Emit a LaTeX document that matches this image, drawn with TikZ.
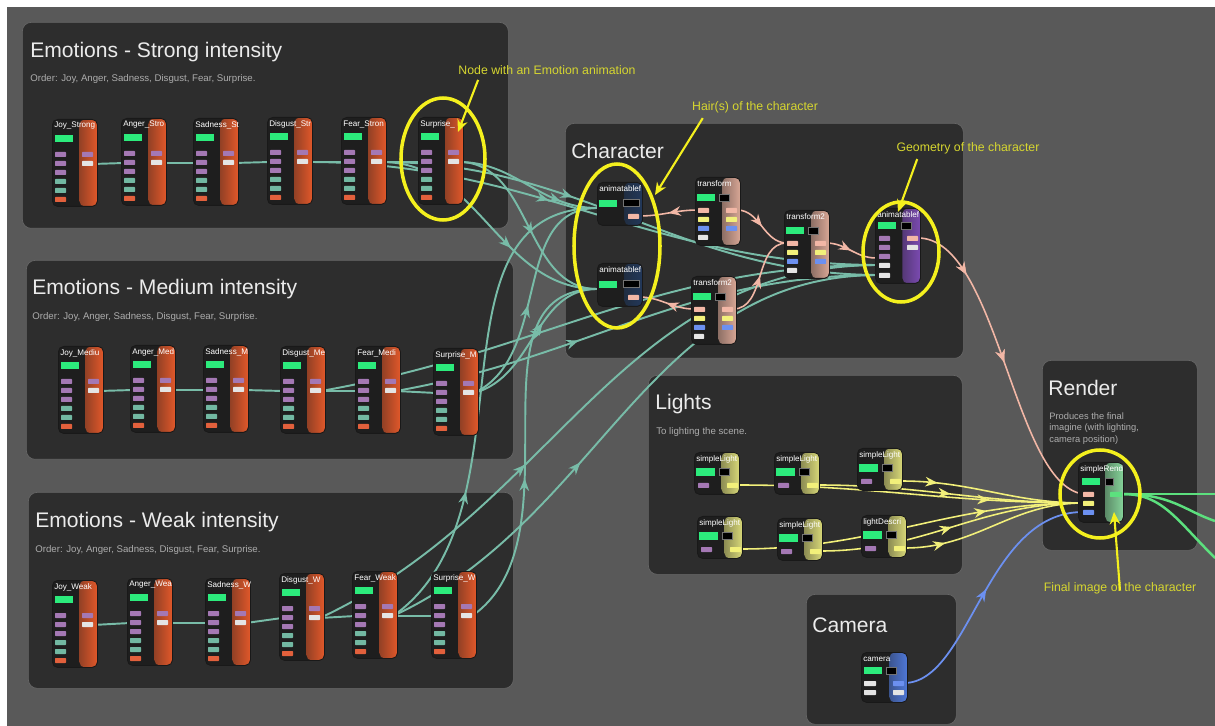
\documentclass[tikz,border=0pt]{standalone}
\usepackage{fontspec}
\setmainfont{Liberation Sans}
\usetikzlibrary{arrows.meta,decorations.markings,shapes.geometric}
\definecolor{pagebg}{HTML}{595959}
\definecolor{panelbg}{HTML}{2D2D2D}
\definecolor{nodebg}{HTML}{1E1E1E}
\definecolor{emorange}{HTML}{E2582A}
\definecolor{animblue}{HTML}{22385A}
\definecolor{geopurple}{HTML}{7B4AB2}
\definecolor{xfpink}{HTML}{D9A796}
\definecolor{lightyel}{HTML}{D8D878}
\definecolor{rndgreen}{HTML}{86D49A}
\definecolor{camblue}{HTML}{4F78D8}
\definecolor{pgreen}{HTML}{2CEB7C}
\definecolor{ppurple}{HTML}{A478B4}
\definecolor{pteal}{HTML}{72B8A2}
\definecolor{pred}{HTML}{E2603C}
\definecolor{pwhite}{HTML}{E4E4E4}
\definecolor{ppink}{HTML}{F2B7A6}
\definecolor{pyellow}{HTML}{F2F07A}
\definecolor{pblue}{HTML}{6C90F0}
\definecolor{wteal}{HTML}{78BCA8}
\definecolor{annoyel}{HTML}{D6D630}
\definecolor{hiyel}{HTML}{F4F01E}
\definecolor{outgreen}{HTML}{5CE07E}
\pgfdeclarelayer{bg}
\pgfdeclarelayer{wires}
\pgfsetlayers{bg,wires,main}

\tikzset{
  panel/.style={anchor=north west, fill=panelbg, draw=black!60, line width=0.4pt,
    rounded corners=5pt, inner sep=0pt},
  ptitle/.style={anchor=base west, inner sep=0pt, text=black!8,
    font=\fontsize{12}{14}\selectfont},
  psub/.style={anchor=base west, inner sep=0pt, text=black!32,
    font=\fontsize{5.5}{6.6}\selectfont},
  gbox/.style={anchor=north west, rounded corners=3pt, draw=black!90, line width=0.5pt,
    fill=nodebg, inner sep=0pt,
    path picture={\shade[left color=nodebg, right color=#1]
      ([xshift=-0.36cm]path picture bounding box.north east)
      rectangle (path picture bounding box.south east);}},
  nodelabel/.style={anchor=west, inner sep=0pt, text=white,
    font=\fontsize{4.6}{5}\selectfont},
  midarrow/.style={postaction={decorate}, decoration={markings,
    mark=at position #1 with {\arrow{Stealth[length=7pt,width=5.5pt]}}}},
  midarrow/.default=0.5,
  tealwire/.style={draw=wteal, line width=1.1pt},
  pinkwire/.style={draw=ppink, line width=0.9pt, midarrow},
  yelwire/.style={draw=pyellow, line width=0.9pt},
  bluewire/.style={draw=pblue, line width=1pt, midarrow},
  greenwire/.style={draw=outgreen, line width=1.4pt},
  hilite/.style={ellipse, draw=hiyel, line width=2pt, inner sep=0pt},
  annot/.style={text=annoyel, inner sep=0pt, font=\fontsize{7}{8}\selectfont},
  annoarrow/.style={draw=hiyel, line width=1.2pt, -{Stealth[length=7pt,width=6pt]}}
}

% generic editor node: name, x, y, w, h, colour, label
\newcommand{\gnode}[7]{%
  \node[gbox=#6, minimum width=#4*0.02cm, minimum height=#5*0.02cm] (#1) at (#2,#3) {};
  \node[nodelabel] (#1-lbl) at ([shift={(2,7)}]#1.north west) {#7};}
\newcommand{\port}[5]{%
  \fill[#5, rounded corners=0.4pt] ([shift={(#2,#3)}]#1.north west) rectangle +(#4,5);}
\newcommand{\darkbox}[4]{%
  \filldraw[fill=black, draw=black!55, line width=0.3pt]
    ([shift={(#2,#3)}]#1.north west) rectangle +(#4,7);}
\newcommand{\greenbar}[3]{%
  \fill[pgreen] ([shift={(#2,#3)}]#1.north west) rectangle +(18,7);}

\newcommand{\emonode}[4]{%
  \gnode{#1}{#2}{#3}{45}{87}{emorange}{#4}
  \greenbar{#1}{3}{16}
  \foreach \k/\pc in {0/ppurple,1/ppurple,2/ppurple,3/pteal,4/pteal,5/pred}
    {\port{#1}{3}{33+9*\k}{11}{\pc}}
  \port{#1}{30}{33}{11}{ppurple}
  \port{#1}{30}{42}{11}{pwhite}
  \coordinate (#1-in) at ([shift={(3,45)}]#1.north west);
  \coordinate (#1-out) at ([shift={(41,45)}]#1.north west);}

\newcommand{\xfnode}[4]{%
  \gnode{#1}{#2}{#3}{45}{68}{xfpink}{#4}
  \greenbar{#1}{2}{17}
  \darkbox{#1}{24}{17}{10}
  \foreach \k/\pc in {0/ppink,1/pyellow,2/pblue}
    {\port{#1}{3}{31+9*\k}{11}{\pc}\port{#1}{31}{31+9*\k}{11}{\pc}}
  \port{#1}{3}{58}{10}{pwhite}
  \coordinate (#1-in) at ([shift={(3,33)}]#1.north west);
  \coordinate (#1-out) at ([shift={(42,33)}]#1.north west);}

\newcommand{\animnode}[3]{%
  \gnode{#1}{#2}{#3}{45}{43}{animblue}{animatablef}
  \greenbar{#1}{2}{18}
  \darkbox{#1}{26}{17}{16}
  \port{#1}{31}{32}{11}{ppink}
  \coordinate (#1-in) at ([shift={(0,26)}]#1.north west);
  \coordinate (#1-out) at ([shift={(42,34)}]#1.north west);}

\newcommand{\lightnode}[4]{%
  \gnode{#1}{#2}{#3}{45}{42}{lightyel}{#4}
  \fill[pgreen] ([shift={(2,16)}]#1.north west) rectangle +(19,8);
  \darkbox{#1}{25}{16}{10}
  \port{#1}{4}{31}{11}{ppurple}
  \port{#1}{33}{31}{11}{pyellow}
  \coordinate (#1-in) at ([shift={(4,33)}]#1.north west);
  \coordinate (#1-out) at ([shift={(44,33)}]#1.north west);}

\begin{document}
\begin{tikzpicture}[x=0.02cm, y=-0.02cm]
  \useasboundingbox (0,0) rectangle (1215,726);

  \begin{pgfonlayer}{bg}
    \fill[white] (0,0) rectangle (1215,726);
    \fill[pagebg] (7,7) rectangle (1215,726);
    \node[panel, minimum width=486*0.02cm, minimum height=206*0.02cm] (strong) at (22,22) {};
    \node[panel, minimum width=487*0.02cm, minimum height=199*0.02cm] (medium) at (26,260) {};
    \node[panel, minimum width=485*0.02cm, minimum height=196*0.02cm] (weak) at (28,492) {};
    \node[panel, minimum width=398*0.02cm, minimum height=235*0.02cm] (character) at (565,123) {};
    \node[panel, minimum width=314*0.02cm, minimum height=199*0.02cm] (lights) at (648,375) {};
    \node[panel, minimum width=155*0.02cm, minimum height=190*0.02cm] (render) at (1042,360) {};
    \node[panel, minimum width=150*0.02cm, minimum height=130*0.02cm] (camera) at (806,594) {};
  \end{pgfonlayer}

  % panel titles
  \node[ptitle] (strong-ttl) at (30,58) {Emotions - Strong intensity};
  \node[psub] (strong-sub) at (30,82) {Order: Joy, Anger, Sadness, Disgust, Fear, Surprise.};
  \node[ptitle] (medium-ttl) at (32,295) {Emotions - Medium intensity};
  \node[psub] (medium-sub) at (32,320) {Order: Joy, Anger, Sadness, Disgust, Fear, Surprise.};
  \node[ptitle] (weak-ttl) at (35,527) {Emotions - Weak intensity};
  \node[psub] (weak-sub) at (35,553) {Order: Joy, Anger, Sadness, Disgust, Fear, Surprise.};
  \node[ptitle] (character-ttl) at (571,159) {Character};
  \node[ptitle] (lights-ttl) at (655,410) {Lights};
  \node[psub] (lights-sub) at (656,435) {To lighting the scene.};
  \node[ptitle] (render-ttl) at (1048,396) {Render};
  \node[psub, anchor=north west, align=left, font=\fontsize{5.3}{6.6}\selectfont]
    (render-sub) at (1049,412) {Produces the final\\imagine (with lighting,\\camera position)};
  \node[ptitle] (camera-ttl) at (812,632) {Camera};

  % emotion nodes
  \foreach \nm/\x/\y/\lb in {
      strJoy/52/119/Joy\_Strong, strAng/121/118/Anger\_Stro, strSad/193/118/Sadness\_St,
      strDis/267/117/Disgust\_Str, strFea/341/117/Fear\_Stron, strSur/418/117/Surprise\_,
      medJoy/58/346/Joy\_Mediu, medAng/130/345/Anger\_Med, medSad/203/345/Sadness\_M,
      medDis/280/346/Disgust\_Me, medFea/355/346/Fear\_Medi, medSur/433/348/Surprise\_M,
      weaJoy/52/580/Joy\_Weak, weaAng/127/578/Anger\_Wea, weaSad/205/578/Sadness\_W,
      weaDis/279/573/Disgust\_W, weaFea/352/571/Fear\_Weak, weaSur/431/571/Surprise\_W}
    {\emonode{\nm}{\x}{\y}{\lb}}

  % character nodes
  \animnode{animA}{597}{182}
  \animnode{animB}{597}{263}
  \xfnode{xfA}{695}{177}{transform}
  \xfnode{xfB}{784}{210}{transform2}
  \xfnode{xfC}{691}{276}{transform2}
  \gnode{geo}{875}{208}{45}{75}{geopurple}{animatablef}
  \greenbar{geo}{3}{14}
  \darkbox{geo}{26}{14}{10}
  \foreach \k in {0,1,2} {\port{geo}{4}{28+9*\k}{11}{ppurple}}
  \port{geo}{4}{55}{11}{pwhite}
  \port{geo}{4}{65}{11}{pwhite}
  \port{geo}{32}{28}{11}{ppink}
  \port{geo}{32}{37}{11}{pwhite}
  \coordinate (geo-inA) at ([shift={(4,57)}]geo.north west);
  \coordinate (geo-inB) at ([shift={(4,67)}]geo.north west);
  \coordinate (geo-inP) at ([shift={(1,50)}]geo.north west);
  \coordinate (geo-out) at ([shift={(43,30)}]geo.north west);

  % lights
  \lightnode{ltA}{694}{452}{simpleLight}
  \lightnode{ltB}{774}{452}{simpleLight}
  \lightnode{ltC}{857}{448}{simpleLight}
  \lightnode{ltD}{697}{516}{simpleLight}
  \lightnode{ltE}{777}{518}{simpleLight}
  \lightnode{ltF}{861}{515}{lightDescri}

  % render
  \gnode{rnd}{1078}{462}{45}{60}{rndgreen}{simpleRend}
  \greenbar{rnd}{4}{16}
  \darkbox{rnd}{27}{16}{8}
  \port{rnd}{5}{30}{11}{ppink}
  \port{rnd}{5}{39}{11}{pyellow}
  \port{rnd}{5}{48}{11}{pblue}
  \port{rnd}{32}{30}{12}{outgreen}
  \coordinate (rnd-inP) at ([shift={(5,32)}]rnd.north west);
  \coordinate (rnd-inY) at ([shift={(5,41)}]rnd.north west);
  \coordinate (rnd-inB) at ([shift={(5,50)}]rnd.north west);
  \coordinate (rnd-out) at ([shift={(44,32)}]rnd.north west);

  % camera
  \gnode{cam}{861}{652}{46}{50}{camblue}{camera}
  \greenbar{cam}{3}{15}
  \darkbox{cam}{25}{15}{10}
  \port{cam}{3}{29}{12}{pwhite}
  \port{cam}{3}{38}{12}{pwhite}
  \port{cam}{32}{29}{11}{pblue}
  \port{cam}{32}{38}{11}{pwhite}
  \coordinate (cam-out) at ([shift={(43,31)}]cam.north west);

  \coordinate (exitA) at (1215,494);
  \coordinate (exitB) at (1215,521);
  \coordinate (exitC) at (1215,558);

  \begin{pgfonlayer}{wires}
    % chains inside the emotion panels
    \foreach \a/\b in {strJoy/strAng, strAng/strSad, strSad/strDis, strDis/strFea, strFea/strSur,
        medJoy/medAng, medAng/medSad, medSad/medDis, medDis/medFea, medFea/medSur,
        weaJoy/weaAng, weaAng/weaSad, weaSad/weaDis, weaDis/weaFea, weaFea/weaSur}
      \draw[tealwire] (\a-out) -- (\b-in);
    % emotions into the character
    \foreach \a/\b/\o/\p in {strDis/geo-inA/0/0.42, strFea/geo-inB/0/0.38, strSur/animA-in/0/0.75,
        strFea/animB-in/0/0.62, strSur/animB-in/0/0.55,
        medDis/geo-inA/10/0.4, medFea/geo-inB/10/0.38, medSur/animB-in/15/0.6,
        medSur/animA-in/25/0.45,
        weaDis/geo-inA/25/0.38, weaFea/geo-inB/25/0.4, weaSur/animB-in/35/0.4,
        weaFea/animA-in/35/0.3}
      \draw[tealwire, midarrow=\p] (\a-out) to[out=\o,in=180] (\b);
    % transforms
    \draw[pinkwire] (xfA-in) to[out=180,in=0] (animA-out);
    \draw[pinkwire] (xfC-in) to[out=180,in=0] (animB-out);
    \draw[pinkwire] (xfA-out) to[out=0,in=180] (xfB-in);
    \draw[pinkwire] (xfC-out) to[out=0,in=180] (xfB-in);
    \draw[pinkwire] (xfB-out) to[out=0,in=180] (geo-inP);
    \draw[pinkwire, midarrow=0.2] (geo-out) .. controls +(80,0) and +(-70,-10) .. (rnd-inP);
    % lights into the render
    \foreach \l/\p in {ltA/0.73, ltB/0.5, ltC/0.2, ltD/0.72, ltE/0.5, ltF/0.22}
      \draw[yelwire, midarrow=\p] (\l-out) to[out=0,in=180] (rnd-inY);
    % camera
    \draw[bluewire] (cam-out) .. controls +(66,0) and +(-98,0) .. (rnd-inB);
    % final image
    \draw[greenwire] (rnd-out) -- (exitA);
    \draw[greenwire] (rnd-out) .. controls +(50,0) and +(-30,-10) .. (exitB);
    \draw[greenwire] (rnd-out) .. controls +(40,0) and +(-40,-40) .. (exitC);
  \end{pgfonlayer}

  % highlights and notes
  \node[hilite, minimum width=84*0.02cm, minimum height=122*0.02cm] (circSur) at (443,159) {};
  \node[hilite, minimum width=86*0.02cm, minimum height=164*0.02cm] (circHair) at (617,246) {};
  \node[hilite, minimum width=76*0.02cm, minimum height=100*0.02cm] (circGeo) at (901,252) {};
  \node[hilite, minimum width=80*0.02cm, minimum height=88*0.02cm] (circRnd) at (1100,494) {};

  \node[annot] (annEmo) at (547,70) {Node with an Emotion animation};
  \node[annot] (annHair) at (755,107) {Hair(s) of the character};
  \node[annot] (annGeo) at (968,148) {Geometry of the character};
  \node[annot] (annRnd) at (1120,588) {Final image of the character};
  \coordinate (annEmo-tip) at (458,132);
  \coordinate (annHair-tip) at (655,195);
  \coordinate (annGeo-tip) at (898,212);
  \coordinate (annRnd-tip) at (1114,512);
  \draw[annoarrow] ([shift={(20,5)}]annEmo.south west) -- (annEmo-tip);
  \draw[annoarrow] ([shift={(11,5)}]annHair.south west) -- (annHair-tip);
  \draw[annoarrow] ([shift={(21,5)}]annGeo.south west) -- (annGeo-tip);
  \draw[annoarrow] ([yshift=-5]annRnd.north) -- (annRnd-tip);
\end{tikzpicture}
\end{document}
